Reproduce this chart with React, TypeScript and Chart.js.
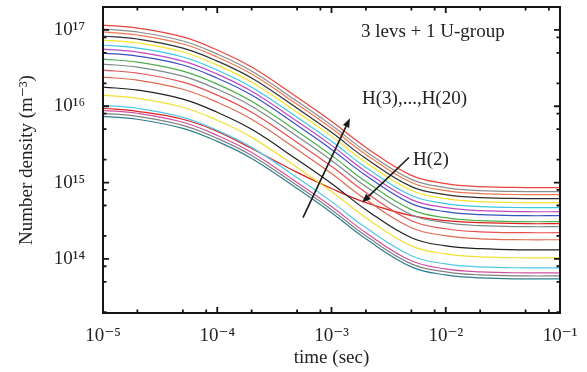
import React, { useEffect, useRef } from 'react';
import { Chart, registerables } from 'chart.js';

Chart.register(...registerables);

// time samples (s)
const times = [1e-5, 2e-5, 5e-5, 1e-4, 2e-4, 5e-4, 1e-3, 2e-3, 5e-3, 1e-2, 2e-2, 5e-2, 1e-1];

// number densities (m^-3), H(20) at top down to H(3), then H(2)
const h20 = [1.16e17, 1.06e17, 8.1e16, 5.46e16, 3.26e16, 1.31e16, 6.34e15, 2.89e15, 1.24e15, 9.7e14, 8.86e14, 8.6e14, 8.6e14];
const h19 = [1.03e17, 9.42e16, 7.16e16, 4.83e16, 2.89e16, 1.16e16, 5.62e15, 2.56e15, 1.1e15, 8.59e14, 7.85e14, 7.62e14, 7.62e14];
const h18 = [9.42e16, 8.59e16, 6.55e16, 4.42e16, 2.64e16, 1.06e16, 5.14e15, 2.33e15, 1.0e15, 7.85e14, 7.16e14, 6.95e14, 6.95e14];
const h17 = [8.34e16, 7.62e16, 5.79e16, 3.91e16, 2.34e16, 9.41e15, 4.55e15, 2.07e15, 8.85e14, 6.95e14, 6.35e14, 6.17e14, 6.17e14];
const h16 = [7.38e16, 6.75e16, 5.14e16, 3.46e16, 2.07e16, 8.34e15, 4.03e15, 1.83e15, 7.85e14, 6.15e14, 5.62e14, 5.46e14, 5.46e14];
const h15 = [6.35e16, 5.79e16, 4.42e16, 2.98e16, 1.78e16, 7.17e15, 3.47e15, 1.58e15, 6.75e14, 5.3e14, 4.83e14, 4.69e14, 4.69e14];
const h14 = [5.62e16, 5.14e16, 3.91e16, 2.64e16, 1.57e16, 6.34e15, 3.07e15, 1.39e15, 5.97e14, 4.69e14, 4.29e14, 4.15e14, 4.15e14];
const h13 = [4.98e16, 4.55e16, 3.47e16, 2.33e16, 1.4e16, 5.63e15, 2.72e15, 1.24e15, 5.3e14, 4.15e14, 3.79e14, 3.68e14, 3.68e14];
const h12 = [4.15e16, 3.79e16, 2.89e16, 1.95e16, 1.16e16, 4.7e15, 2.27e15, 1.03e15, 4.42e14, 3.46e14, 3.16e14, 3.07e14, 3.07e14];
const h11 = [3.57e16, 3.26e16, 2.48e16, 1.67e16, 1.0e16, 4.03e15, 1.95e15, 8.86e14, 3.79e14, 2.98e14, 2.72e14, 2.64e14, 2.64e14];
const h10 = [2.98e16, 2.72e16, 2.07e16, 1.4e16, 8.34e15, 3.36e15, 1.63e15, 7.39e14, 3.16e14, 2.48e14, 2.26e14, 2.2e14, 2.2e14];
const h9 = [2.41e16, 2.2e16, 1.67e16, 1.13e16, 6.75e15, 2.72e15, 1.31e15, 5.98e14, 2.56e14, 2.01e14, 1.83e14, 1.78e14, 1.78e14];
const h8 = [1.78e16, 1.63e16, 1.24e16, 8.34e15, 4.98e15, 2.0e15, 9.7e14, 4.41e14, 1.89e14, 1.48e14, 1.36e14, 1.31e14, 1.31e14];
const h7 = [1.4e16, 1.27e16, 9.7e15, 6.55e15, 3.91e15, 1.58e15, 7.62e14, 3.46e14, 1.48e14, 1.16e14, 1.06e14, 1.03e14, 1.03e14];
const h6 = [1.03e16, 9.42e15, 7.16e15, 4.83e15, 2.89e15, 1.16e15, 5.62e14, 2.55e14, 1.1e14, 8.59e13, 7.85e13, 7.62e13, 7.62e13];
const h5 = [8.85e15, 8.09e15, 6.17e15, 4.15e15, 2.48e15, 1.0e15, 4.84e14, 2.2e14, 9.42e13, 7.38e13, 6.75e13, 6.55e13, 6.55e13];
const h4 = [8.09e15, 7.38e15, 5.62e15, 3.79e15, 2.26e15, 9.13e14, 4.41e14, 2.0e14, 8.59e13, 6.75e13, 6.15e13, 5.97e13, 5.97e13];
const h3 = [7.38e15, 6.75e15, 5.14e15, 3.46e15, 2.07e15, 8.34e14, 4.03e14, 1.83e14, 7.85e13, 6.15e13, 5.62e13, 5.46e13, 5.46e13];
const h2 = [9.42e15, 8.59e15, 6.75e15, 4.69e15, 2.8e15, 1.36e15, 8.34e14, 5.46e14, 3.68e14, 3.16e14, 2.98e14, 2.89e14, 2.89e14];

const seriesNames = ['H(20)', 'H(19)', 'H(18)', 'H(17)', 'H(16)', 'H(15)', 'H(14)', 'H(13)', 'H(12)', 'H(11)', 'H(10)', 'H(9)', 'H(8)', 'H(7)', 'H(6)', 'H(5)', 'H(4)', 'H(3)', 'H(2)'];
const seriesValues = [h20, h19, h18, h17, h16, h15, h14, h13, h12, h11, h10, h9, h8, h7, h6, h5, h4, h3, h2];
const seriesColors = [
  '#e8453c', '#8c8c8c', '#f07850', '#303030', '#f2e52a', '#3cc8e6', '#c048c0', '#3a4fc0', '#4cb04c',
  '#7a8a8a', '#e85050', '#e06a50', '#202020', '#f0e030', '#50c8e8', '#d050a0', '#808080', '#2f7f8f',
  '#e02020',
];

const xTickValues = [1e-5, 1e-4, 1e-3, 1e-2, 1e-1];
const xTickLabels = ['10⁻⁵', '10⁻⁴', '10⁻³', '10⁻²', '10⁻¹'];
const yTickValues = [1e14, 1e15, 1e16, 1e17];
const yTickLabels = ['10¹⁴', '10¹⁵', '10¹⁶', '10¹⁷'];
const minorMultipliers = [2, 5, 8];

const xMin = 1e-5;
const xMax = 1e-1;
const yMin = 1.95e13;
const yMax = 2e17;

// annotations (data coordinates)
const notes = [
  { text: '3 levs + 1 U-group', x: 1.81e-3, y: 9.3e16 },
  { text: 'H(3),...,H(20)', x: 1.85e-3, y: 1.23e16 },
  { text: 'H(2)', x: 5.17e-3, y: 1.95e15 },
];
const arrows = [
  { x0: 5.63e-4, y0: 3.46e14, x1: 1.45e-3, y1: 6.95e15 },
  { x0: 4.76e-3, y0: 2.13e15, x1: 1.85e-3, y1: 5.46e14 },
];

const FONT = "'Liberation Serif', 'DejaVu Serif', serif";

const decorPlugin = {
  id: 'decor',
  afterDatasetsDraw(chart: any) {
    const { ctx, chartArea: a, scales } = chart;
    const x = scales.x;
    const y = scales.y;
    ctx.save();
    ctx.strokeStyle = '#151515';
    ctx.lineWidth = 2;
    ctx.strokeRect(a.left, a.top, a.right - a.left, a.bottom - a.top);

    const drawX = (v: number, len: number) => {
      const px = x.getPixelForValue(v);
      ctx.beginPath();
      ctx.moveTo(px, a.bottom);
      ctx.lineTo(px, a.bottom - len);
      ctx.moveTo(px, a.top);
      ctx.lineTo(px, a.top + len);
      ctx.stroke();
    };
    const drawY = (v: number, len: number) => {
      const py = y.getPixelForValue(v);
      ctx.beginPath();
      ctx.moveTo(a.left, py);
      ctx.lineTo(a.left + len, py);
      ctx.moveTo(a.right, py);
      ctx.lineTo(a.right - len, py);
      ctx.stroke();
    };
    ctx.lineWidth = 1.8;
    xTickValues.forEach((v) => {
      drawX(v, 6);
      minorMultipliers.forEach((m) => {
        const mv = v * m;
        if (mv < xMax) drawX(mv, 3.5);
      });
    });
    const yMajors = [1e13, ...yTickValues];
    yMajors.forEach((v) => {
      if (v >= yMin && v <= yMax) drawY(v, 6);
      minorMultipliers.forEach((m) => {
        const mv = v * m;
        if (mv > yMin && mv < yMax) drawY(mv, 3.5);
      });
    });

    // arrows
    ctx.strokeStyle = '#1a1a1a';
    ctx.fillStyle = '#1a1a1a';
    ctx.lineWidth = 1.6;
    arrows.forEach((ar) => {
      const x0 = x.getPixelForValue(ar.x0);
      const y0 = y.getPixelForValue(ar.y0);
      const x1 = x.getPixelForValue(ar.x1);
      const y1 = y.getPixelForValue(ar.y1);
      const ang = Math.atan2(y1 - y0, x1 - x0);
      const hl = 9;
      const hw = 3.5;
      const bx = x1 - hl * Math.cos(ang);
      const by = y1 - hl * Math.sin(ang);
      ctx.beginPath();
      ctx.moveTo(x0, y0);
      ctx.lineTo(bx, by);
      ctx.stroke();
      ctx.beginPath();
      ctx.moveTo(x1, y1);
      ctx.lineTo(bx + hw * Math.sin(ang), by - hw * Math.cos(ang));
      ctx.lineTo(bx - hw * Math.sin(ang), by + hw * Math.cos(ang));
      ctx.closePath();
      ctx.fill();
    });

    ctx.font = `19px ${FONT}`;
    ctx.fillStyle = '#222';
    ctx.textAlign = 'left';
    ctx.textBaseline = 'middle';
    notes.forEach((n) => {
      ctx.fillText(n.text, x.getPixelForValue(n.x), y.getPixelForValue(n.y));
    });
    ctx.restore();
  },
};

export default function App() {
  const ref = useRef<HTMLCanvasElement | null>(null);
  useEffect(() => {
    if (!ref.current) return;
    const datasets = seriesValues.map((vals, i) => ({
      label: seriesNames[i],
      data: times.map((t, k) => ({ x: t, y: vals[k] })),
      borderColor: seriesColors[i],
      backgroundColor: seriesColors[i],
      borderWidth: 1.2,
      pointRadius: 0,
      fill: false,
      tension: 0.4,
    }));
    const chart = new Chart(ref.current, {
      type: 'line',
      data: { datasets },
      plugins: [decorPlugin],
      options: {
        animation: false,
        responsive: true,
        maintainAspectRatio: false,
        layout: { padding: { top: 7, right: 27, left: 0, bottom: 0 } },
        plugins: { legend: { display: false }, tooltip: { enabled: false } },
        scales: {
          x: {
            type: 'logarithmic',
            min: xMin,
            max: xMax,
            grid: { display: false },
            border: { display: false },
            afterFit: (s: any) => {
              s.height = 59;
              s.paddingLeft = 0;
              s.paddingRight = 0;
            },
            afterBuildTicks: (s: any) => {
              s.ticks = xTickValues.map((v) => ({ value: v }));
            },
            ticks: {
              autoSkip: false,
              maxRotation: 0,
              padding: 4,
              color: '#222',
              font: { family: FONT, size: 19 },
              callback: (v: any) => {
                const i = xTickValues.findIndex((t) => Math.abs(Math.log10(t) - Math.log10(v)) < 1e-6);
                return i >= 0 ? xTickLabels[i] : '';
              },
            },
            title: {
              display: true,
              text: 'time (sec)',
              color: '#222',
              font: { family: FONT, size: 19 },
              padding: { top: 0, bottom: 3 },
            },
          },
          y: {
            type: 'logarithmic',
            min: yMin,
            max: yMax,
            grid: { display: false },
            border: { display: false },
            afterFit: (s: any) => {
              s.width = 103;
              s.paddingTop = 0;
              s.paddingBottom = 0;
            },
            afterBuildTicks: (s: any) => {
              s.ticks = yTickValues.map((v) => ({ value: v }));
            },
            ticks: {
              autoSkip: false,
              padding: 10,
              color: '#222',
              font: { family: FONT, size: 19 },
              callback: (v: any) => {
                const i = yTickValues.findIndex((t) => Math.abs(Math.log10(t) - Math.log10(v)) < 1e-6);
                return i >= 0 ? yTickLabels[i] : '';
              },
            },
            title: {
              display: true,
              text: 'Number density (m⁻³)',
              color: '#222',
              font: { family: FONT, size: 19 },
              padding: { top: 16, bottom: 0 },
            },
          },
        },
      },
    });
    return () => chart.destroy();
  }, []);
  return (
    <div style={{ position: 'fixed', left: 0, top: 0, width: 587, height: 372, background: '#fff' }}>
      <canvas ref={ref} />
    </div>
  );
}
